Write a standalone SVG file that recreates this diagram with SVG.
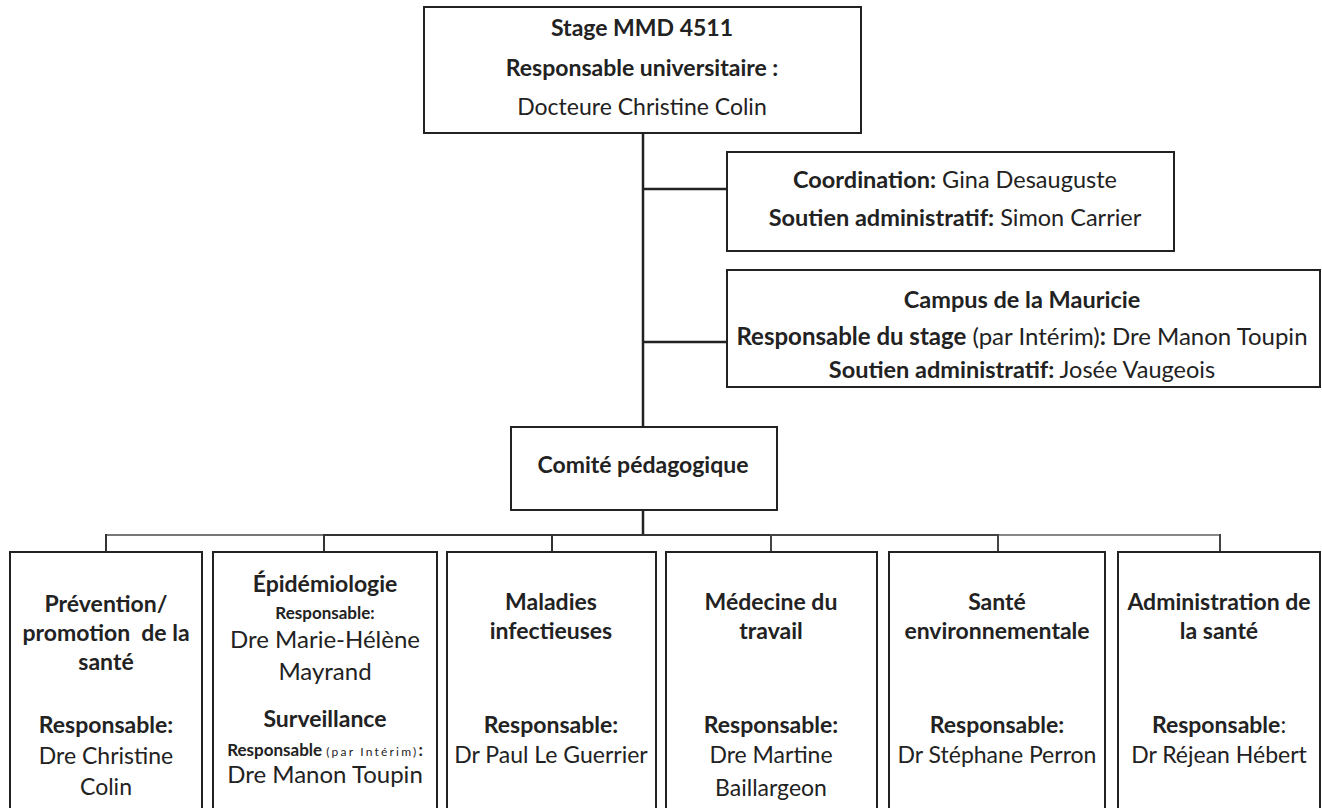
<svg xmlns="http://www.w3.org/2000/svg" width="1322" height="808" viewBox="0 0 1322 808">
<style>
.box{fill:#fff;stroke:#222;stroke-width:2}
text{font-family:Lato,"Open Sans","Liberation Sans",sans-serif;fill:#222;text-anchor:middle;font-size:23px}
.b{font-weight:bold}
.sm{font-size:17px}
.xs{font-size:12px;font-weight:normal;letter-spacing:2.2px}
.big{font-size:24px}
.m{font-size:23.5px}
.c{fill:none;stroke:#222;stroke-width:2.5}
.g1{stroke:#777;stroke-width:2}
.g2{stroke:#444;stroke-width:2}
.g3{stroke:#888;stroke-width:2}
.d{stroke:#333;stroke-width:2}
</style>
<rect width="1322" height="808" fill="#fff"/>
<g id="connectors">
<path class="c" d="M643 133V427M643 510V536M643 189H727M643 342H727"/>
<path class="c g1" d="M106 535H324"/>
<path class="c d" d="M324 535H771"/>
<path class="c g2" d="M771 535H998"/>
<path class="c g3" d="M998 535H1220"/>
<path class="c d" d="M106 534V552M324 534V552M552 534V552"/>
<path class="c g2" d="M771 534V552M998 534V552M1220 534V552"/>
</g>
<g id="stage">
<rect class="box" x="424" y="7" width="437" height="126"/>
<text x="642" y="36" class="b">Stage MMD 4511</text>
<text x="642" y="76" class="b">Responsable universitaire :</text>
<text x="642" y="115">Docteure Christine Colin</text>
</g>
<g id="coordination">
<rect class="box" x="727" y="152" width="447" height="99"/>
<text x="955" y="188" class="m"><tspan class="b">Coordination:</tspan> Gina Desauguste</text>
<text x="955" y="226" class="m"><tspan class="b">Soutien administratif:</tspan> Simon Carrier</text>
</g>
<g id="campus">
<rect class="box" x="727" y="270" width="593" height="117"/>
<text x="1022" y="308" class="b m">Campus de la Mauricie</text>
<text x="1022" y="345" class="big"><tspan class="b">Responsable du stage</tspan> (par Intérim)<tspan class="b">:</tspan> Dre Manon Toupin</text>
<text x="1022" y="378" class="m"><tspan class="b">Soutien administratif:</tspan> Josée Vaugeois</text>
</g>
<g id="comite">
<rect class="box" x="511" y="427" width="266" height="83"/>
<text x="643" y="473" class="b">Comité pédagogique</text>
</g>
<g id="prevention">
<rect class="box" x="10" y="552" width="192" height="270"/>
<text x="106" y="612" class="b">Prévention/</text>
<text x="106" y="641" class="b" xml:space="preserve">promotion  de la</text>
<text x="106" y="670" class="b">santé</text>
<text x="106" y="733" class="b">Responsable:</text>
<text x="106" y="764">Dre Christine</text>
<text x="106" y="795">Colin</text>
</g>
<g id="epidemiologie">
<rect class="box" x="213" y="552" width="224" height="270"/>
<text x="325" y="592" class="b">Épidémiologie</text>
<text x="325" y="619" class="b sm">Responsable:</text>
<text x="325" y="648" class="big">Dre Marie-Hélène</text>
<text x="325" y="680" class="big">Mayrand</text>
<text x="325" y="727" class="b">Surveillance</text>
<text x="325" y="756" class="b sm">Responsable <tspan class="xs">(par Intérim)</tspan>:</text>
<text x="325" y="783" class="big">Dre Manon Toupin</text>
</g>
<g id="maladies">
<rect class="box" x="447" y="552" width="209" height="270"/>
<text x="551" y="610" class="b">Maladies</text>
<text x="551" y="639" class="b">infectieuses</text>
<text x="551" y="733" class="b">Responsable:</text>
<text x="551" y="763">Dr Paul Le Guerrier</text>
</g>
<g id="travail">
<rect class="box" x="666" y="552" width="211" height="270"/>
<text x="771" y="610" class="b">Médecine du</text>
<text x="771" y="639" class="b">travail</text>
<text x="771" y="733" class="b">Responsable:</text>
<text x="771" y="763">Dre Martine</text>
<text x="771" y="796">Baillargeon</text>
</g>
<g id="environnement">
<rect class="box" x="889" y="552" width="216" height="270"/>
<text x="997" y="610" class="b">Santé</text>
<text x="997" y="639" class="b">environnementale</text>
<text x="997" y="733" class="b">Responsable:</text>
<text x="997" y="763">Dr Stéphane Perron</text>
</g>
<g id="administration">
<rect class="box" x="1118" y="552" width="202" height="270"/>
<text x="1219" y="610" class="b">Administration de</text>
<text x="1219" y="639" class="b">la santé</text>
<text x="1219" y="733"><tspan class="b">Responsable</tspan>:</text>
<text x="1219" y="763">Dr Réjean Hébert</text>
</g>
</svg>
